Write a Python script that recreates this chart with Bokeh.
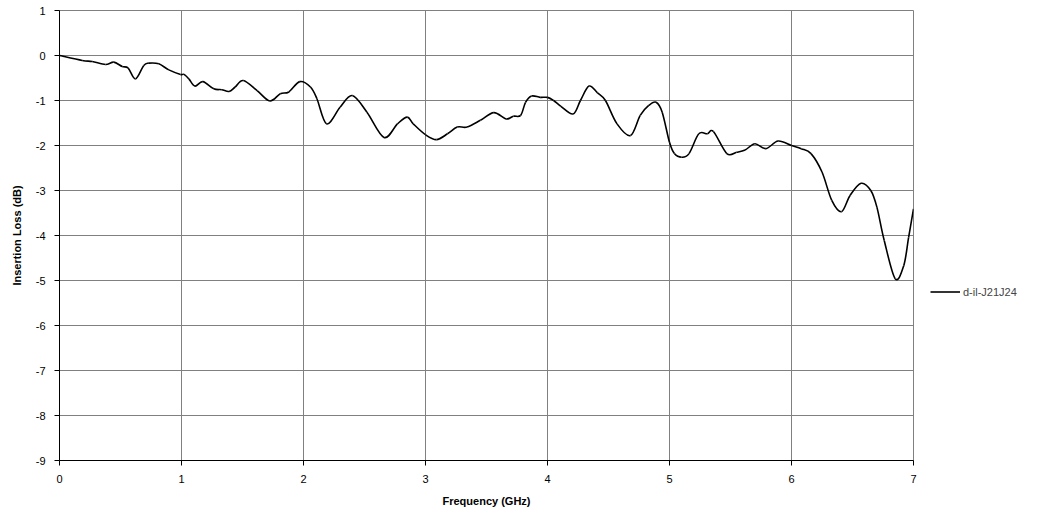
import numpy as np
from bokeh.plotting import figure
from bokeh.layouts import row
from bokeh.models import Range1d, FixedTicker, Legend, LegendItem, PrintfTickFormatter
from bokeh.embed import file_html
from bokeh.resources import INLINE

freq = [0, 0.186, 0.268, 0.377, 0.445, 0.514, 0.563, 0.623, 0.691, 0.732, 0.814,
        0.896, 0.992, 1.02, 1.06, 1.11, 1.175, 1.265, 1.33, 1.39, 1.44, 1.506,
        1.62, 1.724, 1.81, 1.88, 1.97, 2.057, 2.11, 2.19, 2.30, 2.40, 2.52, 2.66,
        2.77, 2.85, 2.90, 3.0, 3.09, 3.18, 3.26, 3.34, 3.45, 3.56, 3.66, 3.72,
        3.78, 3.82, 3.87, 3.94, 4.0, 4.05, 4.11, 4.21, 4.27, 4.34, 4.41, 4.475,
        4.57, 4.68, 4.76, 4.83, 4.89, 4.94, 5.0, 5.04, 5.10, 5.16, 5.24, 5.31,
        5.36, 5.47, 5.55, 5.62, 5.70, 5.79, 5.89, 6.0, 6.08, 6.16, 6.25, 6.33,
        6.41, 6.48, 6.57, 6.65, 6.70, 6.76, 6.85, 6.92, 6.96, 7.0]
loss = [0, -0.11, -0.133, -0.2, -0.148, -0.244, -0.28, -0.52, -0.22, -0.17, -0.185,
        -0.32, -0.42, -0.42, -0.52, -0.68, -0.58, -0.74, -0.76, -0.80, -0.70, -0.556,
        -0.78, -1.01, -0.85, -0.81, -0.58, -0.70, -0.96, -1.52, -1.15, -0.89, -1.26, -1.82,
        -1.52, -1.37, -1.52, -1.76, -1.87, -1.74, -1.59, -1.59, -1.44, -1.27, -1.41, -1.35,
        -1.33, -1.04, -0.90, -0.93, -0.93, -1.0, -1.13, -1.30, -1.0, -0.68, -0.83, -1.0,
        -1.52, -1.78, -1.33, -1.11, -1.04, -1.26, -1.93, -2.18, -2.26, -2.18, -1.74, -1.74,
        -1.69, -2.18, -2.15, -2.10, -1.96, -2.07, -1.90, -2.0, -2.07, -2.18, -2.59, -3.22,
        -3.47, -3.11, -2.84, -3.0, -3.37, -4.11, -4.96, -4.67, -4.04, -3.41]
series_name = "d-il-J21J24"
x_ticks = [0, 1, 2, 3, 4, 5, 6, 7]
y_ticks = [1, 0, -1, -2, -3, -4, -5, -6, -7, -8, -9]

FONT = "Liberation Sans"
H = 509

xs = np.array(freq, dtype=float)
ys = np.array(loss, dtype=float)
xp = np.concatenate([[xs[0]], xs, [xs[-1]]])
yp = np.concatenate([[ys[0]], ys, [ys[-1]]])
x0, y0 = xs[:-1], ys[:-1]
x1, y1 = xs[1:], ys[1:]
cx0 = x0 + (xp[2:-1] - xp[0:-3]) / 6.0
cy0 = y0 + (yp[2:-1] - yp[0:-3]) / 6.0
cx1 = x1 - (xp[3:] - xp[1:-2]) / 6.0
cy1 = y1 - (yp[3:] - yp[1:-2]) / 6.0

p = figure(width=920, height=H, output_backend="svg", toolbar_location=None,
           x_range=Range1d(0, 7), y_range=Range1d(-9, 1),
           min_border_left=59, min_border_top=10, min_border_right=7,
           min_border_bottom=48)
p.outline_line_color = "#808080"
p.outline_line_width = 1
p.background_fill_color = "white"
p.border_fill_color = "white"

for ax in (p.xaxis[0], p.yaxis[0]):
    ax.axis_line_color = "black"
    ax.major_tick_line_color = "black"
    ax.major_tick_in = 0
    ax.major_tick_out = 5
    ax.minor_tick_line_color = None
    ax.major_label_text_font = FONT
    ax.major_label_text_font_size = "11px"
    ax.major_label_text_color = "black"
    ax.axis_label_text_font = FONT
    ax.axis_label_text_font_size = "11px"
    ax.axis_label_text_font_style = "bold"
    ax.axis_label_text_color = "black"
    ax.formatter = PrintfTickFormatter(format="%d")

p.xaxis.ticker = FixedTicker(ticks=x_ticks)
p.yaxis.ticker = FixedTicker(ticks=y_ticks)
p.xaxis.axis_label = "Frequency (GHz)"
p.yaxis.axis_label = "Insertion Loss (dB)"
p.xaxis.axis_label_standoff = 9
p.yaxis.axis_label_standoff = 10
p.xaxis.major_label_standoff = 9
p.yaxis.major_label_standoff = 9

p.xgrid.ticker = FixedTicker(ticks=x_ticks)
p.ygrid.ticker = FixedTicker(ticks=y_ticks)
p.xgrid.grid_line_color = "#808080"
p.ygrid.grid_line_color = "#808080"
p.xgrid.grid_line_width = 1
p.ygrid.grid_line_width = 1

p.bezier(x0=x0, y0=y0, x1=x1, y1=y1, cx0=cx0, cy0=cy0, cx1=cx1, cy1=cy1,
         line_color="black", line_width=1.6)

# legend panel to the right of the chart
q = figure(width=129, height=H, output_backend="svg", toolbar_location=None,
           x_axis_location=None, y_axis_location=None,
           x_range=Range1d(0, 7), y_range=Range1d(-9, 1), min_border=0)
q.outline_line_color = None
q.xgrid.grid_line_color = None
q.ygrid.grid_line_color = None
q.border_fill_color = "white"
q.background_fill_color = "white"
r2 = q.line(freq, loss, line_color="black", line_width=1.6, visible=False)
legend = Legend(items=[LegendItem(label=series_name, renderers=[r2])],
                location=(10, 162), orientation="vertical",
                border_line_color=None, background_fill_alpha=0,
                label_text_font=FONT, label_text_font_size="11px",
                label_height=13, glyph_height=13,
                glyph_width=30, label_standoff=3, padding=0, margin=0,
                spacing=0)
q.add_layout(legend, "center")

layout = row(p, q, spacing=0)
open("out.html", "w").write(file_html(layout, INLINE))
